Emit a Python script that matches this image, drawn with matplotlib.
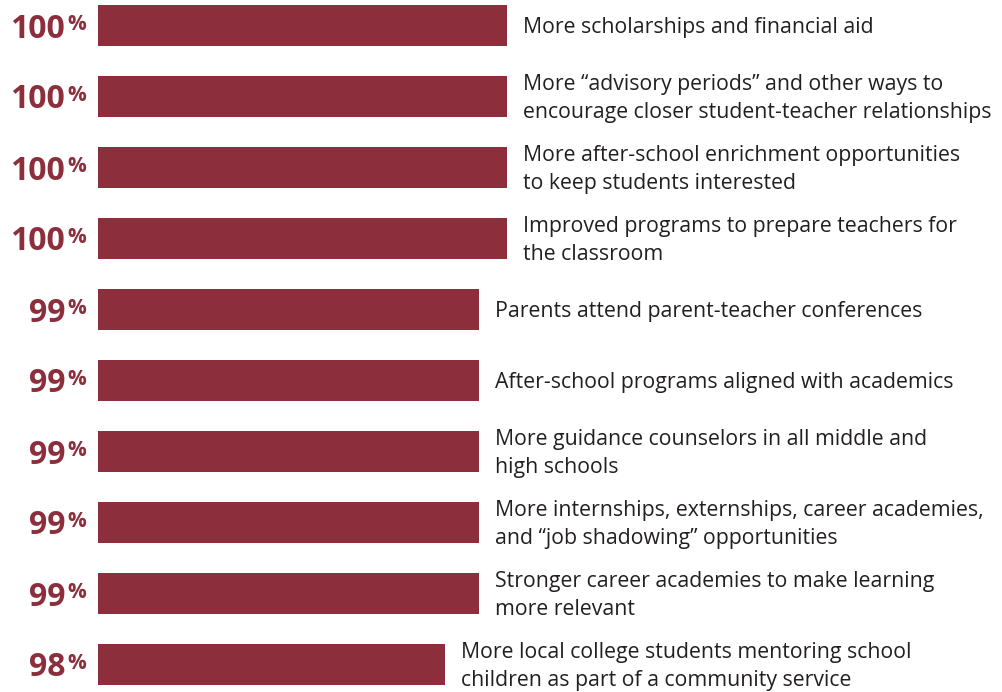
import matplotlib
matplotlib.use("Agg")
import matplotlib.pyplot as plt

# ---- data ----
labels = [
    "More scholarships and financial aid",
    "More \u201cadvisory periods\u201d and other ways to\nencourage closer student-teacher relationships",
    "More after-school enrichment opportunities\nto keep students interested",
    "Improved programs to prepare teachers for\nthe classroom",
    "Parents attend parent-teacher conferences",
    "After-school programs aligned with academics",
    "More guidance counselors in all middle and\nhigh schools",
    "More internships, externships, career academies,\nand \u201cjob shadowing\u201d opportunities",
    "Stronger career academies to make learning\nmore relevant",
    "More local college students mentoring school\nchildren as part of a community service",
]
pct_labels = ["100", "100", "100", "100", "99", "99", "99", "99", "99", "98"]
values = [100, 100, 100, 100, 99.1, 99.1, 99.1, 99.1, 99.1, 98.0]

# ---- style ----
W, H, DPI = 1003, 692, 100
bar_color = "#8C2E3B"
text_color = "#231F20"
base = 86.8          # axis start value
px_per_unit = 31.0   # pixels per percentage point
left_px = 98
row_px = 71
first_center_px = 25.5
bar_h_px = 41
font = ["Open Sans", "DejaVu Sans"]

fig = plt.figure(figsize=(W / DPI, H / DPI), dpi=DPI)
ax = fig.add_axes([left_px / W, 0, 1 - left_px / W, 1])
ax.set_xlim(base, base + (W - left_px) / px_per_unit)
ax.set_ylim((H - first_center_px) / row_px, -first_center_px / row_px)
ax.axis("off")

ys = list(range(len(values)))
ax.barh(ys, [v - base for v in values], left=base, height=bar_h_px / row_px,
        color=bar_color, linewidth=0)

for y, v, p, lab in zip(ys, values, pct_labels, labels):
    ax.annotate(p, xy=(base, y), xytext=(-33, -12), textcoords="offset pixels",
                ha="right", va="baseline", fontsize=23, fontweight="bold",
                color=bar_color, family=font)
    ax.annotate("%", xy=(base, y), xytext=(-12, -4.5), textcoords="offset pixels",
                ha="right", va="baseline", fontsize=15, fontweight="bold",
                color=bar_color, family=font)
    ax.annotate(lab, xy=(v, y), xytext=(16, -2), textcoords="offset pixels",
                ha="left", va="center", fontsize=15.3, color=text_color,
                linespacing=1.38, family=font)

fig.savefig("out.png", dpi=DPI)
